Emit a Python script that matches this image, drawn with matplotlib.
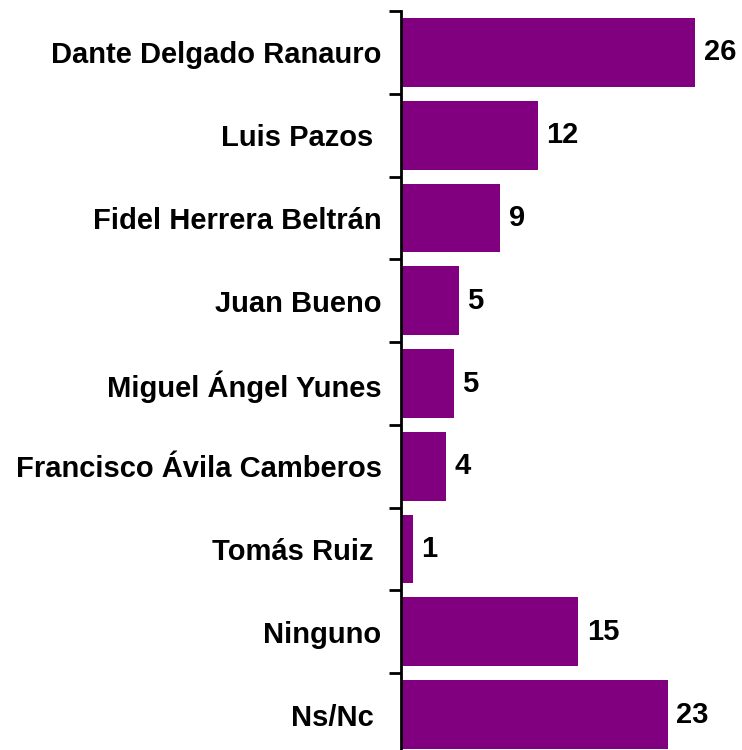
import matplotlib.pyplot as plt
from matplotlib.ticker import FixedLocator

names = ["Dante Delgado Ranauro", "Luis Pazos ", "Fidel Herrera Beltrán", "Juan Bueno",
         "Miguel Ángel Yunes", "Francisco Ávila Camberos", "Tomás Ruiz ", "Ninguno", "Ns/Nc "]
values = [25.6, 11.9, 8.6, 5.0, 4.6, 3.9, 1.0, 15.4, 23.2]
labels = ["26", "12", "9", "5", "5", "4", "1", "15", "23"]

plt.rcParams['font.family'] = ['Liberation Sans', 'DejaVu Sans']

fig = plt.figure(figsize=(7.42, 7.5), dpi=100)
# axes placed in pixels: axis line at x=401, top boundary y=11, bottom ~756
ax = fig.add_axes([401 / 742, (750 - 756) / 750, (742 - 401) / 742, (756 - 11) / 750])

y = list(range(len(names)))
ax.barh(y, values, height=0.83, color="#800080")
ax.set_ylim(len(names) - 0.5, -0.5)
ax.set_xlim(0, 341 / 11.5)

for i in y:
    ax.text(values[i] + 0.75, i, labels[i], va="center", ha="left",
            fontsize=21, fontweight="bold")

ax.set_yticks(y)
ax.set_yticklabels(names, fontsize=21, fontweight="bold")
ax.tick_params(axis="y", which="major", length=0, pad=14)
ax.yaxis.set_minor_locator(FixedLocator([i - 0.5 for i in range(len(names) + 1)]))
ax.tick_params(axis="y", which="minor", length=9, width=2)
ax.set_xticks([])

for s in ["top", "right", "bottom"]:
    ax.spines[s].set_visible(False)
ax.spines["left"].set_linewidth(2)

fig.savefig("out.png", dpi=100)
